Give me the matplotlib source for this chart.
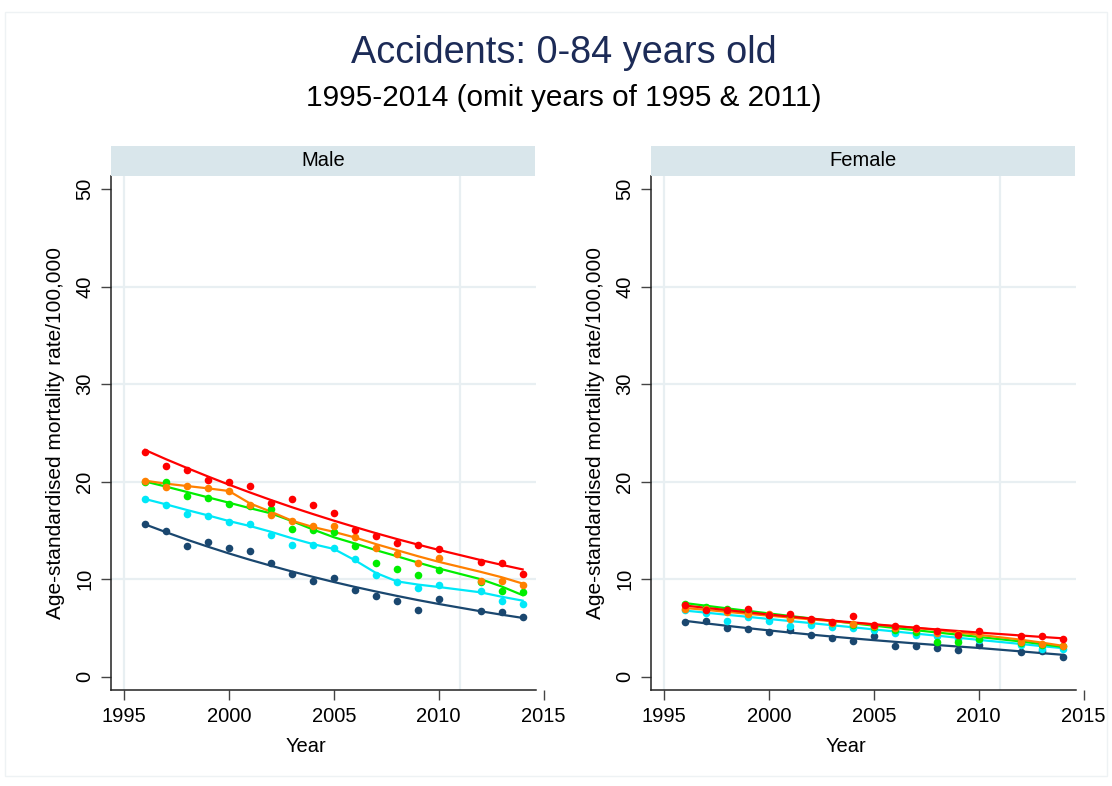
import numpy as np
import matplotlib
matplotlib.use("Agg")
import matplotlib.pyplot as plt
from matplotlib.patches import Rectangle

plt.rcParams['font.family'] = ['Liberation Sans', 'DejaVu Sans']

# years 1996-2014, 2011 omitted
years = [1996, 1997, 1998, 1999, 2000, 2001, 2002, 2003, 2004, 2005,
         2006, 2007, 2008, 2009, 2010, 2012, 2013, 2014]

colors = ['#1a476f', '#00e8f8', '#00ee00', '#ff8000', '#ff0000']

# Male: observed rates (dots)
male_q1 = [15.65, 14.93, 13.36, 13.84, 13.18, 12.88, 11.68, 10.53, 9.86, 10.10, 8.90, 8.27, 7.76, 6.87, 7.98, 6.73, 6.64, 6.13]
male_q2 = [18.22, 17.60, 16.68, 16.46, 15.89, 15.65, 14.49, 13.53, 13.49, 13.23, 12.02, 10.45, 9.75, 9.08, 9.38, 8.82, 7.76, 7.47]
male_q3 = [19.98, 20.00, 18.56, 18.29, 17.71, 17.50, 17.16, 15.10, 15.03, 14.79, 13.39, 11.63, 11.04, 10.38, 10.99, 9.72, 8.79, 8.72]
male_q4 = [20.10, 19.47, 19.57, 19.38, 19.06, 17.57, 16.58, 16.01, 15.50, 15.50, 14.37, 13.15, 12.59, 11.65, 12.19, 9.81, 9.86, 9.37]
male_q5 = [23.08, 21.63, 21.15, 20.17, 20.00, 19.57, 17.77, 18.25, 17.57, 16.77, 15.09, 14.44, 13.73, 13.48, 13.07, 11.78, 11.64, 10.48]

# Male: fitted trend (lines)
male_fit_q1 = [15.62, 14.82, 14.05, 13.33, 12.64, 11.99, 11.38, 10.79, 10.24, 9.71, 9.21, 8.74, 8.29, 7.86, 7.46, 6.71, 6.36, 6.03]
male_fit_q2 = [18.22, 17.67, 17.09, 16.54, 15.96, 15.45, 14.86, 14.20, 13.60, 13.10, 11.95, 10.65, 9.78, 9.45, 9.20, 8.65, 8.20, 7.80]
male_fit_q3 = [20.02, 19.49, 18.94, 18.39, 17.84, 17.28, 16.75, 15.96, 15.10, 14.30, 13.66, 12.98, 12.36, 11.71, 11.10, 10.00, 9.25, 8.36]
male_fit_q4 = [20.10, 19.79, 19.55, 19.31, 19.04, 17.77, 16.92, 16.00, 15.35, 14.85, 14.28, 13.60, 12.98, 12.36, 11.78, 10.75, 10.20, 9.55]
male_fit_q5 = [23.25, 22.30, 21.40, 20.53, 19.69, 18.89, 18.12, 17.38, 16.68, 16.00, 15.35, 14.72, 14.12, 13.55, 13.00, 11.96, 11.47, 11.00]

# Female: observed rates (dots)
female_q1 = [5.60, 5.72, 5.00, 4.92, 4.57, 4.76, 4.25, 4.02, 3.68, 4.15, 3.15, 3.15, 2.95, 2.75, 3.25, 2.50, 2.60, 2.01]
female_q2 = [6.80, 6.55, 5.75, 6.10, 5.70, 5.25, 5.35, 5.05, 5.00, 4.80, 4.47, 4.30, 4.15, 3.90, 3.75, 3.30, 2.80, 2.85]
female_q3 = [7.50, 7.10, 6.95, 6.60, 6.30, 6.10, 5.85, 5.50, 5.30, 5.10, 4.80, 4.60, 3.60, 3.60, 3.90, 3.50, 3.25, 3.20]
female_q4 = [6.96, 6.90, 6.60, 6.45, 6.45, 5.90, 5.80, 5.55, 5.40, 5.20, 5.00, 4.90, 4.45, 4.35, 4.40, 3.55, 3.40, 3.10]
female_q5 = [7.40, 6.80, 6.80, 6.90, 6.30, 6.45, 5.95, 5.60, 6.25, 5.35, 5.15, 5.00, 4.70, 4.30, 4.70, 4.20, 4.15, 3.86]

# Female: fitted trend (lines)
female_fit_q1 = [5.73, 5.47, 5.22, 4.98, 4.75, 4.53, 4.32, 4.12, 3.93, 3.75, 3.58, 3.41, 3.25, 3.10, 2.95, 2.60, 2.42, 2.25]
female_fit_q2 = [6.78, 6.57, 6.35, 6.14, 5.92, 5.71, 5.50, 5.28, 5.07, 4.85, 4.64, 4.42, 4.21, 4.00, 3.78, 3.36, 3.14, 2.93]
female_fit_q3 = [7.55, 7.28, 7.01, 6.75, 6.49, 6.23, 5.98, 5.73, 5.48, 5.24, 5.00, 4.77, 4.54, 4.31, 4.08, 3.62, 3.35, 3.05]
female_fit_q4 = [7.05, 6.85, 6.65, 6.45, 6.26, 6.07, 5.88, 5.70, 5.52, 5.35, 5.18, 5.01, 4.80, 4.55, 4.30, 3.80, 3.50, 3.17]
female_fit_q5 = [7.30, 7.06, 6.83, 6.60, 6.38, 6.17, 5.96, 5.76, 5.57, 5.38, 5.20, 5.02, 4.85, 4.69, 4.53, 4.23, 4.08, 3.94]

panels = [
    ("Male", [male_q1, male_q2, male_q3, male_q4, male_q5],
     [male_fit_q1, male_fit_q2, male_fit_q3, male_fit_q4, male_fit_q5]),
    ("Female", [female_q1, female_q2, female_q3, female_q4, female_q5],
     [female_fit_q1, female_fit_q2, female_fit_q3, female_fit_q4, female_fit_q5]),
]

W, H = 1112, 786
fig = plt.figure(figsize=(W / 100, H / 100), dpi=100)
fig.patch.set_facecolor('white')

# faint outer frame
fig.patches.append(Rectangle((5 / W, 1 - 776 / H), 1102 / W, 764 / H, transform=fig.transFigure,
                             fill=False, edgecolor='#eef2f4', lw=1))

grid_col = '#e8eff2'
xmin, xmax, xend = 1994.38, 2015.3, 2014.62
ymin, ymax = -1.36, 51.33

for left_px, (name, pts, fits) in zip([111, 651], panels):
    ax_w = (xmax - xmin) * 20.98
    ax = fig.add_axes([left_px / W, 1 - 690 / H, ax_w / W, 514 / H])
    ax.set_xlim(xmin, xmax)
    ax.set_ylim(ymin, ymax)

    ax.hlines([10, 20, 30, 40], xmin, xend, color=grid_col, lw=1.6, zorder=0)
    ax.vlines([1995, 2011], ymin, ymax, color=grid_col, lw=1.6, zorder=0)

    for c, fit in zip(colors, fits):
        ax.plot(years, fit, color=c, lw=1.6, zorder=2)
    for c, p in zip(colors, pts):
        ax.scatter(years, p, s=30, color=c, zorder=3, linewidths=0)

    for s in ['top', 'right']:
        ax.spines[s].set_visible(False)
    ax.spines['bottom'].set_bounds(xmin, xend)
    for s in ['left', 'bottom']:
        ax.spines[s].set_color('#222222')
        ax.spines[s].set_linewidth(1.1)

    ax.set_xticks([1995, 2000, 2005, 2010, 2015])
    ax.set_yticks([0, 10, 20, 30, 40, 50])
    ax.tick_params(direction='out', length=7, width=1, color='#444444', labelsize=14.5, pad=5)
    for lab in ax.get_yticklabels():
        lab.set_rotation(90)
        lab.set_va('center')
    ax.set_xlabel("Year", fontsize=14.5)
    ax.xaxis.set_label_coords(195 / ax_w, -0.092)
    ax.set_ylabel("Age-standardised mortality rate/100,000", fontsize=15)
    ax.yaxis.set_label_coords(-46 / ax_w, 0.5)

    # strip header
    fig.patches.append(Rectangle((left_px / W, 1 - 176 / H), 424 / W, 30 / H, transform=fig.transFigure,
                                 facecolor='#d9e6eb', edgecolor='none'))
    fig.text((left_px + 212) / W, 1 - 161 / H, name, ha='center', va='center', fontsize=14.5)

fig.text(564 / W, 1 - 53 / H, "Accidents: 0-84 years old", ha='center', va='center',
         fontsize=27.3, color='#1c2b57')
fig.text(564 / W, 1 - 98 / H, "1995-2014 (omit years of 1995 & 2011)", ha='center', va='center',
         fontsize=21.4, color='black')

fig.savefig('out.png', dpi=100)
